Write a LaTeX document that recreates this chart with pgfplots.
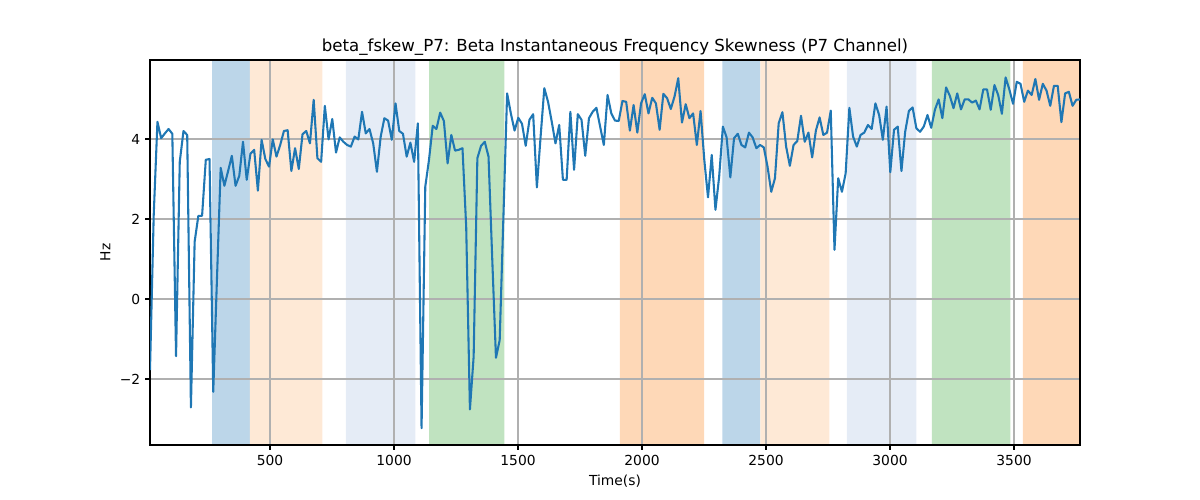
\documentclass[border=0pt]{standalone}
\usepackage{fontspec}
\setmainfont{DejaVu Sans}
\usepackage{pgfplots}
\pgfplotsset{compat=1.18}
\usepackage{pgfplotstable}
\definecolor{tabblue}{RGB}{31,119,180}
\definecolor{cBlue}{RGB}{188,214,233}
\definecolor{cLOrange}{RGB}{254,233,214}
\definecolor{cLBlue}{RGB}{229,236,246}
\definecolor{cGreen}{RGB}{192,227,192}
\definecolor{cOrange}{RGB}{254,216,183}
\definecolor{gridgray}{RGB}{176,176,176}
\pgfplotstableread{
x y
16 -1.78
31 2.1
46 4.43
61 4.02
76 4.14
91 4.25
106 4.13
121 -1.43
136 3.43
151 4.2
166 4.1
181 -2.71
196 1.43
211 2.08
226 2.08
241 3.48
256 3.5
271 -2.32
286 0.5
301 3.28
316 2.83
331 3.2
346 3.58
361 2.83
376 3.08
391 3.93
406 2.98
421 3.63
436 3.73
451 2.71
466 3.98
481 3.5
496 3.31
511 3.99
526 3.56
541 3.85
556 4.2
571 4.22
586 3.2
601 3.77
616 3.25
631 4.12
646 4.2
661 3.89
676 4.98
691 3.52
706 3.43
721 4.83
736 3.99
751 4.5
766 3.66
781 4.04
796 3.93
811 3.85
826 3.81
841 4.06
856 3.99
871 4.68
886 4.14
901 4.25
916 3.89
931 3.18
946 4.05
961 4.52
976 4.46
991 3.98
1006 4.89
1021 4.2
1036 4.13
1051 3.56
1066 3.91
1081 3.43
1096 4.39
1111 -3.23
1126 2.81
1141 3.48
1156 4.33
1171 4.25
1186 4.66
1201 4.45
1216 3.39
1231 4.1
1246 3.71
1261 3.73
1276 3.77
1291 1.8
1306 -2.76
1321 -1.44
1336 3.52
1351 3.83
1366 3.93
1381 3.56
1396 1.0
1411 -1.47
1426 -1.03
1441 2.05
1456 5.14
1471 4.64
1486 4.21
1501 4.53
1516 4.38
1531 3.83
1546 4.48
1561 4.62
1576 2.79
1591 4.06
1606 5.27
1621 4.93
1636 4.43
1651 3.89
1666 4.35
1681 2.98
1696 2.98
1711 4.68
1726 3.23
1741 4.62
1756 4.48
1771 3.58
1786 4.52
1801 4.68
1816 4.78
1831 4.31
1846 3.85
1861 5.1
1876 4.64
1891 4.46
1906 4.45
1921 4.95
1936 4.93
1951 4.21
1966 4.85
1981 4.16
1996 4.89
2011 5.12
2026 4.64
2041 5.03
2056 4.89
2071 4.23
2086 5.13
2101 5.02
2116 4.75
2131 5.06
2146 5.52
2161 4.41
2176 4.87
2191 4.52
2206 4.64
2221 3.85
2236 4.7
2251 3.48
2266 2.54
2281 3.6
2296 2.23
2311 3.06
2326 4.31
2341 4.04
2356 3.04
2371 4.02
2386 4.13
2401 3.85
2416 3.79
2431 4.16
2446 4.04
2461 3.77
2476 3.85
2491 3.79
2506 3.31
2521 2.68
2536 3.02
2551 4.39
2566 4.67
2581 3.81
2596 3.33
2611 3.85
2626 3.95
2641 4.58
2656 3.93
2671 4.16
2686 3.54
2701 4.21
2716 4.54
2731 4.1
2746 4.16
2761 4.71
2776 1.23
2791 3.02
2806 2.68
2821 3.14
2836 4.78
2851 4.06
2866 3.81
2881 4.1
2896 4.16
2911 4.35
2926 4.25
2941 4.89
2956 4.6
2971 3.98
2986 4.81
3001 3.17
3016 4.23
3031 4.31
3046 3.2
3061 4.18
3076 4.7
3091 4.79
3106 4.27
3121 4.18
3136 4.31
3151 4.6
3166 4.28
3181 4.73
3196 4.99
3211 4.52
3226 5.29
3241 5.08
3256 4.77
3271 5.14
3286 4.74
3301 4.99
3316 4.99
3331 4.91
3346 4.96
3361 4.74
3376 5.24
3391 5.24
3406 4.73
3421 5.35
3436 5.1
3451 4.63
3466 5.54
3481 5.24
3496 4.88
3511 5.43
3526 5.38
3541 4.93
3556 5.21
3571 5.1
3586 5.5
3601 4.98
3616 5.38
3631 5.21
3646 4.83
3661 5.33
3676 5.33
3691 4.42
3706 5.14
3721 5.18
3736 4.83
3751 4.98
3766 4.99
}\datatable
\begin{document}
\begin{tikzpicture}
\path (0,0) rectangle (12in,5in);
\begin{axis}[
  set layers,
  at={(1.5in,0.55in)}, anchor=south west,
  width=9.3in, height=3.85in, scale only axis,
  xmin=16, xmax=3766, ymin=-3.65, ymax=5.975,
  xtick={500,1000,1500,2000,2500,3000,3500},
  ytick={-2,0,2,4}, yticklabels={−2,0,2,4},
  tick align=outside, tick pos=left,
  major tick length=3.5pt,
  tick style={black, line width=0.8pt},
  axis line style={line width=0.8pt},
  grid=major, grid style={color=gridgray, line width=0.8pt},
  /pgf/number format/assume math mode=true,
  /pgf/number format/set thousands separator={},
  ticklabel style={font=\fontsize{10}{12}\selectfont},
  title={beta\_fskew\_P7: Beta Instantaneous Frequency Skewness (P7 Channel)},
  title style={font=\fontsize{12}{14}\selectfont, yshift=-6.5pt},
  xlabel={Time(s)}, ylabel={Hz},
  label style={font=\fontsize{10}{12}\selectfont},
]
\addplot[fill=cBlue, draw=none, on layer=axis background, forget plot] coordinates {(266,-3.65) (419,-3.65) (419,5.975) (266,5.975)} \closedcycle;
\addplot[fill=cLOrange, draw=none, on layer=axis background, forget plot] coordinates {(419,-3.65) (711,-3.65) (711,5.975) (419,5.975)} \closedcycle;
\addplot[fill=cLBlue, draw=none, on layer=axis background, forget plot] coordinates {(806,-3.65) (1086,-3.65) (1086,5.975) (806,5.975)} \closedcycle;
\addplot[fill=cGreen, draw=none, on layer=axis background, forget plot] coordinates {(1141,-3.65) (1445,-3.65) (1445,5.975) (1141,5.975)} \closedcycle;
\addplot[fill=cOrange, draw=none, on layer=axis background, forget plot] coordinates {(1911,-3.65) (2250,-3.65) (2250,5.975) (1911,5.975)} \closedcycle;
\addplot[fill=cBlue, draw=none, on layer=axis background, forget plot] coordinates {(2324,-3.65) (2477,-3.65) (2477,5.975) (2324,5.975)} \closedcycle;
\addplot[fill=cLOrange, draw=none, on layer=axis background, forget plot] coordinates {(2477,-3.65) (2755,-3.65) (2755,5.975) (2477,5.975)} \closedcycle;
\addplot[fill=cLBlue, draw=none, on layer=axis background, forget plot] coordinates {(2826,-3.65) (3106,-3.65) (3106,5.975) (2826,5.975)} \closedcycle;
\addplot[fill=cGreen, draw=none, on layer=axis background, forget plot] coordinates {(3169,-3.65) (3485,-3.65) (3485,5.975) (3169,5.975)} \closedcycle;
\addplot[fill=cOrange, draw=none, on layer=axis background, forget plot] coordinates {(3536,-3.65) (3766,-3.65) (3766,5.975) (3536,5.975)} \closedcycle;
\addplot[color=tabblue, line width=1.5pt, mark=none, line join=round] table[x=x,y=y] {\datatable};
\end{axis}
\end{tikzpicture}
\end{document}
